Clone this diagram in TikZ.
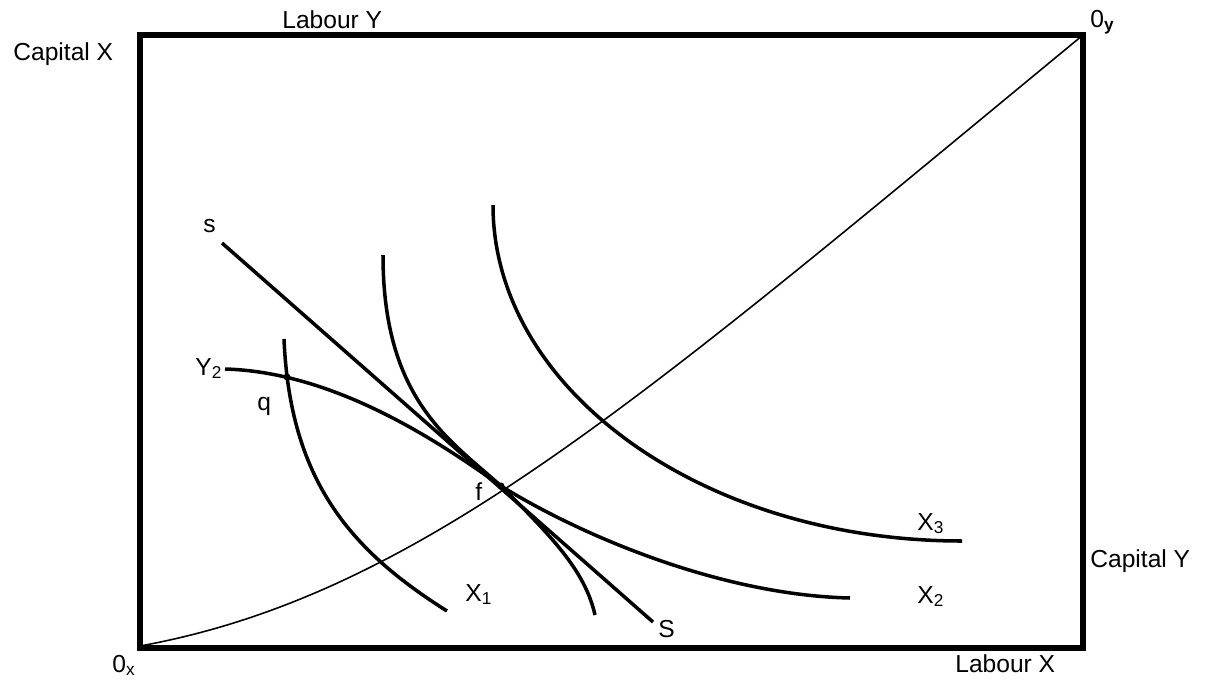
\documentclass[tikz,border=0pt]{standalone}
\usepackage{fontspec}
\setmainfont{Liberation Sans}
\begin{document}
\begin{tikzpicture}[x=0.02cm,y=-0.02cm,font=\fontsize{14}{16}\selectfont,
	lbl/.style={anchor=base west,inner sep=0pt},
	iso/.style={line width=2pt}]
	\useasboundingbox (0,0) rectangle (1215,684);
	\draw[line width=3.4pt] (140,35) rectangle (1083,648);
	\coordinate (ox) at (140,646);	\coordinate (oy) at (1083,35);
	\coordinate (q) at (287,377);	\coordinate (f) at (501,486);
	\draw[line width=0.9pt] (ox) .. controls (420,595) and (640,400) .. (oy);
	\draw[iso] (222,243)coordinate(sl) -- (653,622)coordinate(Sl);
	\draw[iso] (284,339) .. controls (290,480) and (350,550) .. (447,611)coordinate(xone);
	\draw[iso] (383,255) .. controls (383,400) and (450,440) .. (f) .. controls (550,535) and (585,570) .. (595,615);
	\draw[iso] (225,369)coordinate(ytwo) .. controls (330,372) and (430,435) .. (f) .. controls (580,535) and (720,595) .. (850,598);
	\draw[iso] (493,205) .. controls (493,390) and (703,541) .. (962,541)coordinate(xthree);
	\fill (q) circle(2pt);	\fill (f) circle(2pt);
	\node[lbl] (labY) at (282,28) {Labour Y};
	\node[lbl] (capX) at (13,60) {Capital X};
	\node[lbl] (capY) at (1090,567) {Capital Y};
	\node[lbl] (labX) at (955,672) {Labour X};
	\node[lbl] (nx) at (112,672) {0\textsubscript{x}};
	\node[lbl] (ny) at (1090,27) {0\textsubscript{\textbf{y}}};
	\node[lbl] (ls) at (203,232) {s};
	\node[lbl] (lS) at (658,637) {S};
	\node[lbl] (lY) at (195,375) {Y\textsubscript{2}};
	\node[lbl] (lq) at (257,410) {q};
	\node[lbl] (lf) at (475,500) {f};
	\node[lbl] (lxa) at (465,601) {X\textsubscript{1}};
	\node[lbl] (lxb) at (917,603) {X\textsubscript{2}};
	\node[lbl] (lxc) at (917,530) {X\textsubscript{3}};
\end{tikzpicture}
\end{document}
